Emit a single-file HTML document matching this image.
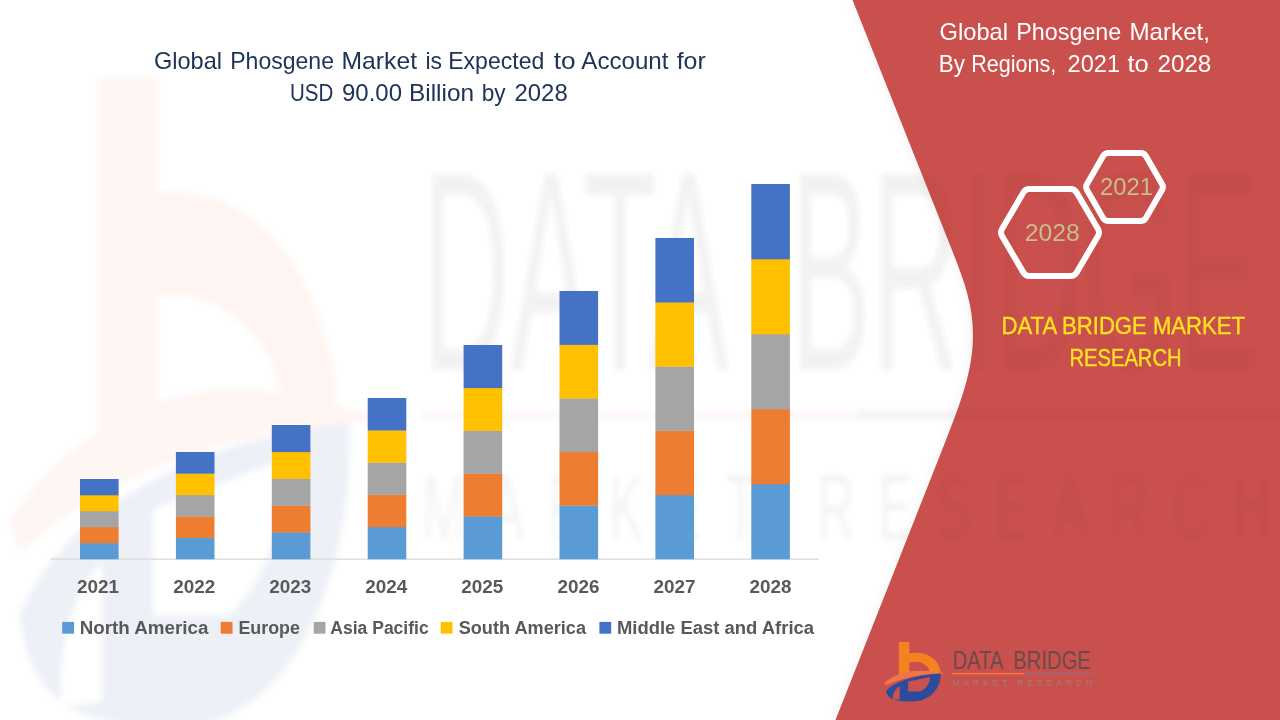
<!DOCTYPE html>
<html>
<head>
<meta charset="utf-8">
<title>Global Phosgene Market</title>
<style>
html,body{margin:0;padding:0;background:#fff;}
body{width:1280px;height:720px;overflow:hidden;font-family:"Liberation Sans",sans-serif;}
svg{display:block;}
text{font-family:"Liberation Sans",sans-serif;}
</style>
</head>
<body>
<svg width="1280" height="720" viewBox="0 0 1280 720">
<defs>
<filter id="blur3" x="-10%" y="-10%" width="120%" height="120%"><feGaussianBlur stdDeviation="2.2"/></filter>
<filter id="blur6" x="-20%" y="-20%" width="140%" height="140%"><feGaussianBlur stdDeviation="5"/></filter>

<g id="logo-b">
  <!-- orange b -->
  <path d="M14.9,0 L25.4,0 L25.4,11.2 C41,8.6 55,16 56.8,30.4 L46,31 C45,22.5 36,18 25.4,20.4 L25.4,31.6 L14.9,33.4 Z" style="fill:var(--ob,#F58220)"/>
</g>
<g id="logo-eye">
  <!-- salmon swoosh -->
  <path d="M0.2,40.8 C8,34.2 19,30.2 30,29 C41,27.9 53,29.4 62.5,31.6 C40,31.8 18,35.6 2,43.6 Z" style="fill:var(--os,#F0764A)"/>
  <!-- blue eye with D counter + slit -->
  <path fill-rule="evenodd" fill="#2B4C9B" d="M2.1,49.3 C8,41 28,33.4 56.4,31.6 C57.6,45 47,59.4 29,59.4 L20,59.2 C10,58.9 3.4,56.2 2.1,49.3 Z M24.1,39.6 L46.1,34.9 C46,40 43,46.5 36.3,49.4 L24.1,49.4 Z M8.9,57.4 C8.3,52 11,47 15.7,44.3 L15.7,57.2 C13,57.6 10.6,57.7 8.9,57.4 Z"/>
</g>
<g id="logo-text">
  <text x="68.5" y="27.4" font-size="26.2" style="fill:var(--tc,#6A4B4A)" textLength="50.6" lengthAdjust="spacingAndGlyphs">DATA</text>
  <text x="129.1" y="27.4" font-size="26.2" style="fill:var(--tc,#6A4B4A)" textLength="77.5" lengthAdjust="spacingAndGlyphs">BRIDGE</text>
</g>
<g id="logo-line">
  <rect x="68" y="30.8" width="72" height="1.6" fill="#F47B3C"/>
  <rect x="140" y="30.8" width="70" height="1.6" style="fill:var(--tc,#9B6A78)"/>
</g>
<g id="logo-sub">
  <text x="68.5" y="44.3" font-size="8.6" style="fill:var(--tc,#9C7F80)" textLength="140" lengthAdjust="spacing">MARKET RESEARCH</text>
</g>
<filter id="blur4" x="-10%" y="-10%" width="120%" height="120%"><feGaussianBlur stdDeviation="3.2"/></filter>
</defs>
<rect width="1280" height="720" fill="#ffffff"/>

<!-- watermark text under the red panel -->
<g id="wm2u" opacity="0.028" filter="url(#blur4)" style="--tc:#000"><g transform="translate(7.2,71.5) scale(6.06,10.9)"><use href="#logo-text"/></g><g transform="translate(7.2,57.5) scale(6.06,10.9)"><use href="#logo-sub"/></g><g transform="translate(7.2,241.2) scale(6.06,5.5)"><use href="#logo-line"/></g></g>
<!-- RED PANEL -->
<path id="redshadow" d="M852.5,0 L946,235 C961,273 973,300 973,335 C973,370 961,402 946,440 L835.5,720 L1280,720 L1280,0 Z" fill="#000" opacity="0.035" filter="url(#blur6)" transform="translate(-3,0)"/>
<path id="red" d="M852.5,0 L946,235 C961,273 973,300 973,335 C973,370 961,402 946,440 L835.5,720 L1280,720 L1280,0 Z" fill="#C9504C"/>


<!-- WATERMARK (logo stretched over the slide) -->
<g id="wm" opacity="0.085" filter="url(#blur4)" style="--ob:#EE5A24;--os:#F4906C">
  <path d="M98,78 L158,78 L158,193 C215,187 262,215 292,262 C318,303 333,350 338,402 L283,408 C280,386 275,368 266,352 C246,318 205,290 158,296 L158,422 L98,441 Z" fill="#EE5A24" fill-opacity="0.72"/>
  <g transform="translate(7.2,77.5) scale(6.06,10.9)"><use href="#logo-eye"/></g>
</g>
<g id="wm2o" opacity="0.02" filter="url(#blur4)" style="--tc:#000"><g transform="translate(7.2,71.5) scale(6.06,10.9)"><use href="#logo-text"/></g><g transform="translate(7.2,57.5) scale(6.06,10.9)"><use href="#logo-sub"/></g><g transform="translate(7.2,241.2) scale(6.06,5.5)"><use href="#logo-line"/></g></g>
<!-- SMALL LOGO -->
<g transform="translate(884,642)"><use href="#logo-b"/><use href="#logo-eye"/><use href="#logo-text"/><use href="#logo-line"/><use href="#logo-sub"/></g>

<!-- CHART -->
<g id="chart">
  <rect x="50" y="558.5" width="769" height="1.3" fill="#D9D9D9"/>
  <rect x="80.0" y="543.0" width="38.6" height="16.3" fill="#5B9BD5"/>
  <rect x="80.0" y="527.0" width="38.6" height="16.3" fill="#ED7D31"/>
  <rect x="80.0" y="511.0" width="38.6" height="16.3" fill="#A5A5A5"/>
  <rect x="80.0" y="495.0" width="38.6" height="16.3" fill="#FFC000"/>
  <rect x="80.0" y="479.0" width="38.6" height="16.3" fill="#4472C4"/>
  <rect x="175.9" y="537.6" width="38.6" height="21.7" fill="#5B9BD5"/>
  <rect x="175.9" y="516.2" width="38.6" height="21.7" fill="#ED7D31"/>
  <rect x="175.9" y="494.8" width="38.6" height="21.7" fill="#A5A5A5"/>
  <rect x="175.9" y="473.4" width="38.6" height="21.7" fill="#FFC000"/>
  <rect x="175.9" y="452.0" width="38.6" height="21.7" fill="#4472C4"/>
  <rect x="271.8" y="532.2" width="38.6" height="27.1" fill="#5B9BD5"/>
  <rect x="271.8" y="505.4" width="38.6" height="27.1" fill="#ED7D31"/>
  <rect x="271.8" y="478.6" width="38.6" height="27.1" fill="#A5A5A5"/>
  <rect x="271.8" y="451.8" width="38.6" height="27.1" fill="#FFC000"/>
  <rect x="271.8" y="425.0" width="38.6" height="27.1" fill="#4472C4"/>
  <rect x="367.7" y="526.8" width="38.6" height="32.5" fill="#5B9BD5"/>
  <rect x="367.7" y="494.6" width="38.6" height="32.5" fill="#ED7D31"/>
  <rect x="367.7" y="462.4" width="38.6" height="32.5" fill="#A5A5A5"/>
  <rect x="367.7" y="430.2" width="38.6" height="32.5" fill="#FFC000"/>
  <rect x="367.7" y="398.0" width="38.6" height="32.5" fill="#4472C4"/>
  <rect x="463.6" y="516.2" width="38.6" height="43.1" fill="#5B9BD5"/>
  <rect x="463.6" y="473.4" width="38.6" height="43.1" fill="#ED7D31"/>
  <rect x="463.6" y="430.6" width="38.6" height="43.1" fill="#A5A5A5"/>
  <rect x="463.6" y="387.8" width="38.6" height="43.1" fill="#FFC000"/>
  <rect x="463.6" y="345.0" width="38.6" height="43.1" fill="#4472C4"/>
  <rect x="559.5" y="505.4" width="38.6" height="53.9" fill="#5B9BD5"/>
  <rect x="559.5" y="451.8" width="38.6" height="53.9" fill="#ED7D31"/>
  <rect x="559.5" y="398.2" width="38.6" height="53.9" fill="#A5A5A5"/>
  <rect x="559.5" y="344.6" width="38.6" height="53.9" fill="#FFC000"/>
  <rect x="559.5" y="291.0" width="38.6" height="53.9" fill="#4472C4"/>
  <rect x="655.4" y="494.8" width="38.6" height="64.5" fill="#5B9BD5"/>
  <rect x="655.4" y="430.6" width="38.6" height="64.5" fill="#ED7D31"/>
  <rect x="655.4" y="366.4" width="38.6" height="64.5" fill="#A5A5A5"/>
  <rect x="655.4" y="302.2" width="38.6" height="64.5" fill="#FFC000"/>
  <rect x="655.4" y="238.0" width="38.6" height="64.5" fill="#4472C4"/>
  <rect x="751.3" y="484.0" width="38.6" height="75.3" fill="#5B9BD5"/>
  <rect x="751.3" y="409.0" width="38.6" height="75.3" fill="#ED7D31"/>
  <rect x="751.3" y="334.0" width="38.6" height="75.3" fill="#A5A5A5"/>
  <rect x="751.3" y="259.0" width="38.6" height="75.3" fill="#FFC000"/>
  <rect x="751.3" y="184.0" width="38.6" height="75.3" fill="#4472C4"/>
  <text x="77.1" y="593" font-size="17.5" font-weight="bold" fill="#595959" textLength="42" lengthAdjust="spacingAndGlyphs">2021</text>
  <text x="173.2" y="593" font-size="17.5" font-weight="bold" fill="#595959" textLength="42" lengthAdjust="spacingAndGlyphs">2022</text>
  <text x="269.2" y="593" font-size="17.5" font-weight="bold" fill="#595959" textLength="42" lengthAdjust="spacingAndGlyphs">2023</text>
  <text x="365.3" y="593" font-size="17.5" font-weight="bold" fill="#595959" textLength="42" lengthAdjust="spacingAndGlyphs">2024</text>
  <text x="461.3" y="593" font-size="17.5" font-weight="bold" fill="#595959" textLength="42" lengthAdjust="spacingAndGlyphs">2025</text>
  <text x="557.4" y="593" font-size="17.5" font-weight="bold" fill="#595959" textLength="42" lengthAdjust="spacingAndGlyphs">2026</text>
  <text x="653.5" y="593" font-size="17.5" font-weight="bold" fill="#595959" textLength="42" lengthAdjust="spacingAndGlyphs">2027</text>
  <text x="749.5" y="593" font-size="17.5" font-weight="bold" fill="#595959" textLength="42" lengthAdjust="spacingAndGlyphs">2028</text>
  <rect x="62.2" y="621.9" width="11.8" height="11.8" fill="#5B9BD5"/>
  <text x="79.7" y="634" font-size="18" font-weight="bold" fill="#595959" textLength="128.7" lengthAdjust="spacingAndGlyphs">North America</text>
  <rect x="220.7" y="621.9" width="11.8" height="11.8" fill="#ED7D31"/>
  <text x="238.4" y="634" font-size="18" font-weight="bold" fill="#595959" textLength="61.6" lengthAdjust="spacingAndGlyphs">Europe</text>
  <rect x="313.7" y="621.9" width="11.8" height="11.8" fill="#A5A5A5"/>
  <text x="330.3" y="634" font-size="18" font-weight="bold" fill="#595959" textLength="98.4" lengthAdjust="spacingAndGlyphs">Asia Pacific</text>
  <rect x="440.7" y="621.9" width="11.8" height="11.8" fill="#FFC000"/>
  <text x="458.7" y="634" font-size="18" font-weight="bold" fill="#595959" textLength="127.3" lengthAdjust="spacingAndGlyphs">South America</text>
  <rect x="599.4" y="621.9" width="11.8" height="11.8" fill="#4472C4"/>
  <text x="617" y="634" font-size="18" font-weight="bold" fill="#595959" textLength="197.0" lengthAdjust="spacingAndGlyphs">Middle East and Africa</text>
  <text x="154.0" y="68.7" font-size="24" fill="#203458" textLength="68.0" lengthAdjust="spacingAndGlyphs">Global</text>
  <text x="230.2" y="68.7" font-size="24" fill="#203458" textLength="103.8" lengthAdjust="spacingAndGlyphs">Phosgene</text>
  <text x="341.5" y="68.7" font-size="24" fill="#203458" textLength="75.5" lengthAdjust="spacingAndGlyphs">Market</text>
  <text x="425.4" y="68.7" font-size="24" fill="#203458" textLength="16.6" lengthAdjust="spacingAndGlyphs">is</text>
  <text x="448.2" y="68.7" font-size="24" fill="#203458" textLength="96.1" lengthAdjust="spacingAndGlyphs">Expected</text>
  <text x="553.7" y="68.7" font-size="24" fill="#203458" textLength="21.8" lengthAdjust="spacingAndGlyphs">to</text>
  <text x="581.3" y="68.7" font-size="24" fill="#203458" textLength="87.2" lengthAdjust="spacingAndGlyphs">Account</text>
  <text x="676.7" y="68.7" font-size="24" fill="#203458" textLength="29.1" lengthAdjust="spacingAndGlyphs">for</text>
  <text x="290.0" y="100.5" font-size="24" fill="#203458" textLength="43.3" lengthAdjust="spacingAndGlyphs">USD</text>
  <text x="342.0" y="100.5" font-size="24" fill="#203458" textLength="60.0" lengthAdjust="spacingAndGlyphs">90.00</text>
  <text x="409.0" y="100.5" font-size="24" fill="#203458" textLength="65.0" lengthAdjust="spacingAndGlyphs">Billion</text>
  <text x="481.7" y="100.5" font-size="24" fill="#203458" textLength="23.9" lengthAdjust="spacingAndGlyphs">by</text>
  <text x="514.5" y="100.5" font-size="24" fill="#203458" textLength="53.2" lengthAdjust="spacingAndGlyphs">2028</text>
  <text x="939.5" y="39.7" font-size="24" fill="#FFFFFF" textLength="68.5" lengthAdjust="spacingAndGlyphs">Global</text>
  <text x="1016.3" y="39.7" font-size="24" fill="#FFFFFF" textLength="105.0" lengthAdjust="spacingAndGlyphs">Phosgene</text>
  <text x="1129.5" y="39.7" font-size="24" fill="#FFFFFF" textLength="80.5" lengthAdjust="spacingAndGlyphs">Market,</text>
  <text x="938.8" y="72" font-size="24" fill="#FFFFFF" textLength="26.2" lengthAdjust="spacingAndGlyphs">By</text>
  <text x="971.3" y="72" font-size="24" fill="#FFFFFF" textLength="85.0" lengthAdjust="spacingAndGlyphs">Regions,</text>
  <text x="1067.5" y="72" font-size="24" fill="#FFFFFF" textLength="52.5" lengthAdjust="spacingAndGlyphs">2021</text>
  <text x="1127.5" y="72" font-size="24" fill="#FFFFFF" textLength="21.3" lengthAdjust="spacingAndGlyphs">to</text>
  <text x="1157.5" y="72" font-size="24" fill="#FFFFFF" textLength="53.8" lengthAdjust="spacingAndGlyphs">2028</text>
  <path d="M1002.0,236.0 Q1000.0,232.5 1002.0,229.0 L1023.4,192.4 Q1025.4,188.9 1029.4,188.9 L1070.6,188.9 Q1074.6,188.9 1076.6,192.4 L1098.0,229.0 Q1100.0,232.5 1098.0,236.0 L1076.6,272.6 Q1074.6,276.1 1070.6,276.1 L1029.4,276.1 Q1025.4,276.1 1023.4,272.6 Z" fill="none" stroke="#FFFFFF" stroke-width="6" stroke-linejoin="round"/>
  <path d="M1087.0,190.0 Q1085.2,187.0 1087.0,184.0 L1103.1,156.0 Q1104.9,153.0 1108.4,153.0 L1140.6,153.0 Q1144.1,153.0 1145.9,156.0 L1162.0,184.0 Q1163.8,187.0 1162.0,190.0 L1145.9,218.0 Q1144.1,221.0 1140.6,221.0 L1108.4,221.0 Q1104.9,221.0 1103.1,218.0 Z" fill="none" stroke="#FFFFFF" stroke-width="6" stroke-linejoin="round"/>
  <text x="1024.7" y="241.3" font-size="24" fill="#C9BE8D" textLength="55" lengthAdjust="spacingAndGlyphs">2028</text>
  <text x="1100" y="194.8" font-size="24" fill="#C9BE8D" textLength="53" lengthAdjust="spacingAndGlyphs">2021</text>
  <text x="1001.5" y="334" font-size="24" fill="#FFE21F" stroke="#FFE21F" stroke-width="0.35" textLength="243.5" lengthAdjust="spacingAndGlyphs">DATA BRIDGE MARKET</text>
  <text x="1069.5" y="366.2" font-size="24" fill="#FFE21F" stroke="#FFE21F" stroke-width="0.35" textLength="112" lengthAdjust="spacingAndGlyphs">RESEARCH</text>
</g>
</svg>
</body>
</html>
